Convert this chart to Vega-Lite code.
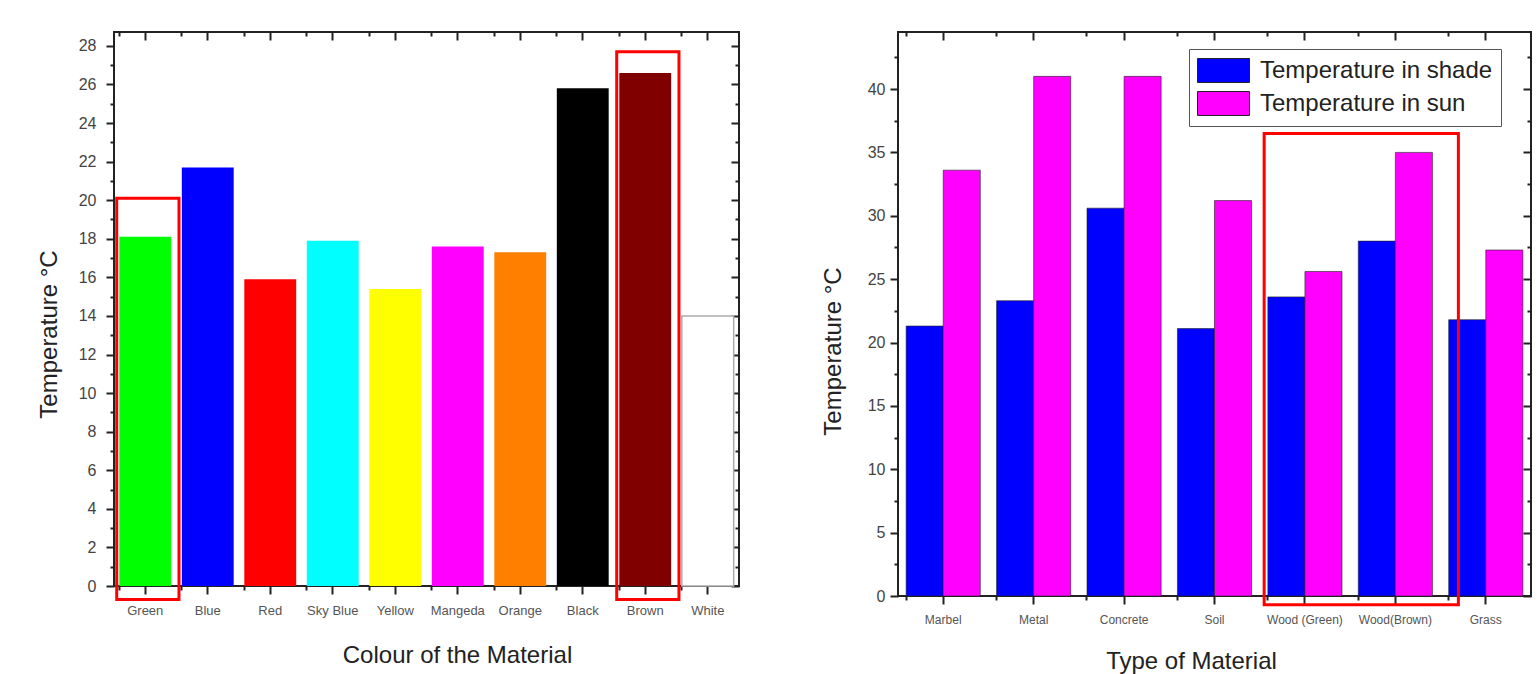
{
  "$schema": "https://vega.github.io/schema/vega-lite/v6.json",
  "background": "white",
  "padding": {"left": 36, "top": 30, "right": 0, "bottom": 0},
  "bounds": "flush",
  "spacing": 159,
  "resolve": {"scale": {"color": "independent"}, "legend": {"color": "independent"}},
  "config": {
    "font": "Liberation Sans",
    "view": {"stroke": "#222", "strokeWidth": 2},
    "axis": {"domain": false, "grid": false, "tickColor": "#222", "tickWidth": 2, "labelFont": "Liberation Sans", "titleFont": "Liberation Sans", "labelColor": "#444", "titleColor": "#222", "titleFontWeight": "normal", "labelOverlap": false}
  },
  "hconcat": [
    {
      "width": 625,
      "height": 554,
      "layer": [
        {
          "data": {"values": [
            {"Colour": "Green", "Temp": 18.1},
            {"Colour": "Blue", "Temp": 21.7},
            {"Colour": "Red", "Temp": 15.9},
            {"Colour": "Sky Blue", "Temp": 17.9},
            {"Colour": "Yellow", "Temp": 15.4},
            {"Colour": "Mangeda", "Temp": 17.6},
            {"Colour": "Orange", "Temp": 17.3},
            {"Colour": "Black", "Temp": 25.8},
            {"Colour": "Brown", "Temp": 26.6},
            {"Colour": "White", "Temp": 14.0}
          ]},
          "mark": {"type": "bar", "strokeWidth": 1.5},
          "encoding": {
            "x": {"field": "Colour", "type": "nominal", "sort": null,
              "scale": {"domain": ["Green", "Blue", "Red", "Sky Blue", "Yellow", "Mangeda", "Orange", "Black", "Brown", "White"], "paddingInner": 0.17, "paddingOuter": 0.085},
              "axis": {"orient": "bottom", "title": "Colour of the Material", "labelAngle": 0, "labelFontSize": 13, "labelColor": "#555", "tickSize": 8, "labelPadding": 10, "titleFontSize": 24, "titlePadding": 26, "titleX": 343, "titleAnchor": "middle", "titleAlign": "center"}},
            "y": {"field": "Temp", "type": "quantitative",
              "scale": {"domain": [0, 28.72], "nice": false, "zero": false},
              "axis": {"orient": "left", "title": "Temperature  °C", "values": [0,1,2,3,4,5,6,7,8,9,10,11,12,13,14,15,16,17,18,19,20,21,22,23,24,25,26,27,28],
                "labelExpr": "datum.value % 2 === 0 ? datum.label : ''",
                "tickSize": {"condition": {"test": "datum.value % 2 === 0", "value": 8}, "value": 4},
                "labelFontSize": 16, "labelPadding": 10, "titleFontSize": 24, "titlePadding": 17, "titleY": 302, "titleAlign": "center"}},
            "color": {"field": "Colour", "type": "nominal",
              "scale": {"domain": ["Green", "Blue", "Red", "Sky Blue", "Yellow", "Mangeda", "Orange", "Black", "Brown", "White"],
                "range": ["#00ff00", "#0000ff", "#ff0000", "#00ffff", "#ffff00", "#ff00ff", "#ff8000", "#000000", "#800000", "#ffffff"]},
              "legend": null},
            "stroke": {"condition": {"test": "datum.Colour === 'White'", "value": "#aaa"}, "value": "transparent"}
          }
        },
        {
          "data": {"values": [
            {"from": "Green", "to": "Green", "top": 20.1, "bottom": -0.7},
            {"from": "Brown", "to": "Brown", "top": 27.7, "bottom": -0.7}
          ]},
          "mark": {"type": "rect", "filled": false, "stroke": "#ff0000", "strokeWidth": 3},
          "encoding": {
            "x": {"field": "from", "type": "nominal", "bandPosition": -0.05,
              "axis": {"orient": "top", "labels": false, "title": null, "tickSize": -8}},
            "x2": {"field": "to", "bandPosition": 1.15},
            "y": {"field": "bottom", "type": "quantitative",
              "axis": {"orient": "right", "labels": false, "title": null, "values": [0,1,2,3,4,5,6,7,8,9,10,11,12,13,14,15,16,17,18,19,20,21,22,23,24,25,26,27,28],
                "tickSize": {"condition": {"test": "datum.value % 2 === 0", "value": -8}, "value": -4}}},
            "y2": {"field": "top"}
          }
        },
        {
          "data": {"values": [
            {"Colour": "Green", "Temp": 0}, {"Colour": "Blue", "Temp": 0}, {"Colour": "Red", "Temp": 0}, {"Colour": "Sky Blue", "Temp": 0}, {"Colour": "Yellow", "Temp": 0},
            {"Colour": "Mangeda", "Temp": 0}, {"Colour": "Orange", "Temp": 0}, {"Colour": "Black", "Temp": 0}, {"Colour": "Brown", "Temp": 0}, {"Colour": "White", "Temp": 0}
          ]},
          "mark": {"type": "bar", "opacity": 0},
          "encoding": {
            "x": {"field": "Colour", "type": "nominal", "sort": null,
              "axis": {"orient": "bottom", "labels": false, "title": null, "tickSize": 4, "bandPosition": 0}},
            "y": {"field": "Temp", "type": "quantitative", "axis": null}
          }
        },
        {
          "data": {"values": [
            {"Colour": "Green", "Temp": 0}, {"Colour": "Blue", "Temp": 0}, {"Colour": "Red", "Temp": 0}, {"Colour": "Sky Blue", "Temp": 0}, {"Colour": "Yellow", "Temp": 0},
            {"Colour": "Mangeda", "Temp": 0}, {"Colour": "Orange", "Temp": 0}, {"Colour": "Black", "Temp": 0}, {"Colour": "Brown", "Temp": 0}, {"Colour": "White", "Temp": 0}
          ]},
          "mark": {"type": "bar", "opacity": 0},
          "encoding": {
            "x": {"field": "Colour", "type": "nominal", "sort": null,
              "axis": {"orient": "top", "labels": false, "title": null, "tickSize": -4, "bandPosition": 0}},
            "y": {"field": "Temp", "type": "quantitative", "axis": null}
          }
        }
      ],
      "resolve": {"axis": {"x": "independent", "y": "independent"}}
    },
    {
      "width": 633,
      "height": 564,
      "layer": [
        {
          "data": {"values": [
            {"Material": "Marbel", "Series": "Temperature in shade", "Temp": 21.3},
            {"Material": "Marbel", "Series": "Temperature in sun", "Temp": 33.6},
            {"Material": "Metal", "Series": "Temperature in shade", "Temp": 23.3},
            {"Material": "Metal", "Series": "Temperature in sun", "Temp": 41.0},
            {"Material": "Concrete", "Series": "Temperature in shade", "Temp": 30.6},
            {"Material": "Concrete", "Series": "Temperature in sun", "Temp": 41.0},
            {"Material": "Soil", "Series": "Temperature in shade", "Temp": 21.1},
            {"Material": "Soil", "Series": "Temperature in sun", "Temp": 31.2},
            {"Material": "Wood (Green)", "Series": "Temperature in shade", "Temp": 23.6},
            {"Material": "Wood (Green)", "Series": "Temperature in sun", "Temp": 25.6},
            {"Material": "Wood(Brown)", "Series": "Temperature in shade", "Temp": 28.0},
            {"Material": "Wood(Brown)", "Series": "Temperature in sun", "Temp": 35.0},
            {"Material": "Grass", "Series": "Temperature in shade", "Temp": 21.8},
            {"Material": "Grass", "Series": "Temperature in sun", "Temp": 27.3}
          ]},
          "mark": {"type": "bar", "stroke": "#222", "strokeWidth": 0.6},
          "encoding": {
            "x": {"field": "Material", "type": "nominal", "sort": null,
              "scale": {"domain": ["Marbel", "Metal", "Concrete", "Soil", "Wood (Green)", "Wood(Brown)", "Grass"], "paddingInner": 0.18, "paddingOuter": 0.09},
              "axis": {"orient": "bottom", "title": "Type of Material", "labelAngle": 0, "labelFontSize": 12, "labelColor": "#555", "tickSize": 8, "labelPadding": 10, "titleFontSize": 24, "titlePadding": 24, "titleX": 293, "titleAnchor": "middle", "titleAlign": "center"}},
            "xOffset": {"field": "Series", "type": "nominal", "sort": null},
            "y": {"field": "Temp", "type": "quantitative",
              "scale": {"domain": [0, 44.5], "nice": false, "zero": false},
              "axis": {"orient": "left", "title": "Temperature  °C", "values": [0,2.5,5,7.5,10,12.5,15,17.5,20,22.5,25,27.5,30,32.5,35,37.5,40,42.5],
                "labelExpr": "datum.value % 5 === 0 ? '' + datum.value : ''",
                "tickSize": {"condition": {"test": "datum.value % 5 === 0", "value": 8}, "value": 4},
                "labelFontSize": 16, "labelPadding": 5, "titleFontSize": 24, "titlePadding": 22, "titleY": 319, "titleAlign": "center"}},
            "color": {"field": "Series", "type": "nominal",
              "scale": {"domain": ["Temperature in shade", "Temperature in sun"], "range": ["#0000ff", "#ff00ff"]},
              "legend": {"orient": "none", "legendX": 291, "legendY": 17, "title": null,
                "symbolType": "M-1,-0.92H3V0.92H-1Z", "symbolSize": 676, "symbolStrokeColor": "#222", "symbolStrokeWidth": 1, "symbolOpacity": 1,
                "labelFontSize": 24, "labelFont": "Liberation Sans", "labelColor": "#222", "labelLimit": 400, "labelOffset": 36,
                "padding": 8, "strokeColor": "#555", "fillColor": "white", "rowPadding": 4}}
          }
        },
        {
          "data": {"values": [
            {"from": "Wood (Green)", "to": "Wood(Brown)", "top": 36.5, "bottom": -0.7}
          ]},
          "mark": {"type": "rect", "filled": false, "stroke": "#ff0000", "strokeWidth": 3},
          "encoding": {
            "x": {"field": "from", "type": "nominal", "bandPosition": -0.05,
              "axis": {"orient": "top", "labels": false, "title": null, "tickSize": -8}},
            "x2": {"field": "to", "bandPosition": 1.35},
            "y": {"field": "bottom", "type": "quantitative",
              "axis": {"orient": "right", "labels": false, "title": null, "values": [0,2.5,5,7.5,10,12.5,15,17.5,20,22.5,25,27.5,30,32.5,35,37.5,40,42.5],
                "tickSize": {"condition": {"test": "datum.value % 5 === 0", "value": -8}, "value": -4}}},
            "y2": {"field": "top"}
          }
        },
        {
          "data": {"values": [
            {"Material": "Marbel", "Temp": 0}, {"Material": "Metal", "Temp": 0}, {"Material": "Concrete", "Temp": 0}, {"Material": "Soil", "Temp": 0},
            {"Material": "Wood (Green)", "Temp": 0}, {"Material": "Wood(Brown)", "Temp": 0}, {"Material": "Grass", "Temp": 0}
          ]},
          "mark": {"type": "bar", "opacity": 0},
          "encoding": {
            "x": {"field": "Material", "type": "nominal", "sort": null,
              "axis": {"orient": "bottom", "labels": false, "title": null, "tickSize": 4, "bandPosition": 0}},
            "y": {"field": "Temp", "type": "quantitative", "axis": null}
          }
        },
        {
          "data": {"values": [
            {"Material": "Marbel", "Temp": 0}, {"Material": "Metal", "Temp": 0}, {"Material": "Concrete", "Temp": 0}, {"Material": "Soil", "Temp": 0},
            {"Material": "Wood (Green)", "Temp": 0}, {"Material": "Wood(Brown)", "Temp": 0}, {"Material": "Grass", "Temp": 0}
          ]},
          "mark": {"type": "bar", "opacity": 0},
          "encoding": {
            "x": {"field": "Material", "type": "nominal", "sort": null,
              "axis": {"orient": "top", "labels": false, "title": null, "tickSize": -4, "bandPosition": 0}},
            "y": {"field": "Temp", "type": "quantitative", "axis": null}
          }
        }
      ],
      "resolve": {"axis": {"x": "independent", "y": "independent"}}
    }
  ]
}
